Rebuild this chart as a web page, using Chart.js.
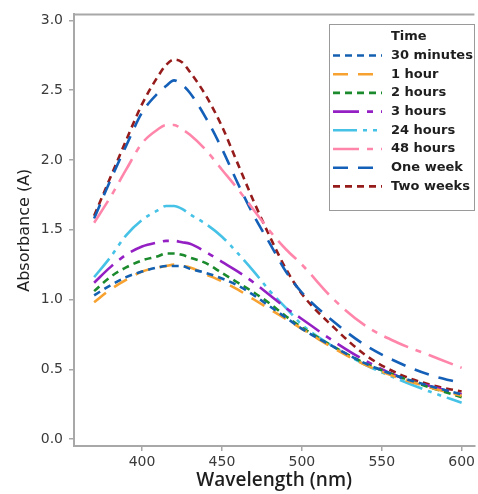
<!DOCTYPE html>
<html>
<head>
<meta charset="utf-8">
<script src="https://cdn.jsdelivr.net/npm/chart.js@4"></script>
<style>
    html, body { margin: 0; padding: 0; background: #fff; }
</style>
</head>
<body>
<canvas id="absChart" width="478" height="494"></canvas>
<script>
// wavelengths (nm) shared by all series
const wavelengths = [370, 380, 390, 400, 410, 415, 420, 425, 430, 440, 450, 460, 470, 480, 490, 500, 520, 540, 560, 580, 600];

const legendTitle = "Time";
const seriesNames = ["30 minutes", "1 hour", "2 hours", "3 hours", "24 hours", "48 hours", "One week", "Two weeks"];

const min30   = [1.03, 1.10, 1.16, 1.20, 1.23, 1.24, 1.24, 1.24, 1.22, 1.19, 1.15, 1.10, 1.03, 0.95, 0.87, 0.79, 0.66, 0.54, 0.45, 0.38, 0.32];
const hour1   = [0.98, 1.07, 1.14, 1.20, 1.23, 1.24, 1.25, 1.24, 1.23, 1.18, 1.13, 1.07, 1.00, 0.93, 0.86, 0.79, 0.65, 0.53, 0.44, 0.37, 0.31];
const hours2  = [1.06, 1.16, 1.23, 1.28, 1.31, 1.33, 1.33, 1.32, 1.30, 1.26, 1.19, 1.12, 1.05, 0.97, 0.88, 0.80, 0.66, 0.54, 0.45, 0.37, 0.30];
const hours3  = [1.12, 1.23, 1.32, 1.38, 1.41, 1.42, 1.42, 1.41, 1.40, 1.34, 1.27, 1.20, 1.12, 1.03, 0.94, 0.86, 0.70, 0.56, 0.45, 0.38, 0.32];
const hours24 = [1.16, 1.30, 1.46, 1.57, 1.64, 1.67, 1.67, 1.65, 1.61, 1.54, 1.45, 1.33, 1.20, 1.06, 0.94, 0.82, 0.66, 0.53, 0.43, 0.34, 0.26];
const hours48 = [1.55, 1.73, 1.93, 2.12, 2.22, 2.25, 2.25, 2.22, 2.18, 2.07, 1.93, 1.79, 1.64, 1.49, 1.36, 1.25, 1.00, 0.81, 0.69, 0.60, 0.51];
const week1   = [1.58, 1.85, 2.10, 2.34, 2.48, 2.53, 2.57, 2.54, 2.48, 2.30, 2.08, 1.83, 1.60, 1.40, 1.20, 1.05, 0.84, 0.67, 0.55, 0.46, 0.40];
const weeks2  = [1.60, 1.87, 2.14, 2.40, 2.60, 2.68, 2.72, 2.70, 2.63, 2.46, 2.24, 1.97, 1.70, 1.45, 1.22, 1.04, 0.80, 0.60, 0.47, 0.39, 0.34];

const xTicks = [400, 450, 500, 550, 600];
const yTicks = [0, 0.5, 1.0, 1.5, 2.0, 2.5, 3.0];

const seriesValues = [min30, hour1, hours2, hours3, hours24, hours48, week1, weeks2];
const colors = ["#1460b0", "#f7a230", "#1b8a2c", "#9420c4", "#45c2e6", "#ff86aa", "#1460b8", "#961c1c"];
const dashes = [
    [7, 5],
    [15, 10],
    [7, 5],
    [26, 8, 6, 8],
    [24, 6, 4, 6, 4, 6],
    [26, 8, 6, 8],
    [15, 10],
    [7, 5]
];

const datasets = seriesNames.map((name, i) => ({
    label: name,
    data: wavelengths.map((w, j) => ({ x: w, y: seriesValues[i][j] })),
    borderColor: colors[i],
    borderWidth: 2.6,
    borderDash: dashes[i],
    fill: false,
    pointRadius: 0,
    cubicInterpolationMode: "monotone"
}));

const axisColor = "#a8a8a8";
const tickFont = { family: "DejaVu Sans", size: 14 };

// box legend with a title, drawn from the datasets
const boxLegend = {
    id: "boxLegend",
    afterDraw(chart) {
        const ctx = chart.ctx;
        const left = 329.5, top = 24.5, w = 145, h = 186;
        ctx.save();
        ctx.fillStyle = "#fff";
        ctx.fillRect(left, top, w, h);
        ctx.strokeStyle = "#9a9a9a";
        ctx.lineWidth = 1;
        ctx.setLineDash([]);
        ctx.strokeRect(left, top, w, h);

        ctx.font = "bold 13px 'DejaVu Sans'";
        ctx.fillStyle = "#1e1e1e";
        ctx.textBaseline = "middle";
        ctx.textAlign = "left";
        ctx.fillText(legendTitle, 391, 37);

        chart.data.datasets.forEach((ds, i) => {
            const y = 55.5 + i * 18.7;
            ctx.strokeStyle = ds.borderColor;
            ctx.lineWidth = 2.6;
            ctx.setLineDash(ds.borderDash);
            ctx.beginPath();
            ctx.moveTo(333, y);
            ctx.lineTo(382, y);
            ctx.stroke();
            ctx.setLineDash([]);
            ctx.fillText(ds.label, 391, y);
        });
        ctx.restore();
    }
};

// top edge of the plot frame
const topFrame = {
    id: "topFrame",
    afterDraw(chart) {
        const { ctx, chartArea } = chart;
        ctx.save();
        ctx.strokeStyle = axisColor;
        ctx.lineWidth = 2;
        ctx.beginPath();
        ctx.moveTo(chartArea.left, chartArea.top);
        ctx.lineTo(chartArea.right, chartArea.top);
        ctx.stroke();
        ctx.restore();
    }
};

new Chart(document.getElementById("absChart").getContext("2d"), {
    type: "line",
    data: { datasets },
    options: {
        responsive: false,
        animation: false,
        devicePixelRatio: 1,
        layout: { padding: { top: 14, right: 0, left: 0, bottom: 0 } },
        plugins: {
            legend: { display: false },
            tooltip: { enabled: false }
        },
        scales: {
            x: {
                type: "linear",
                min: 357.4,
                max: 608,
                afterBuildTicks: s => { s.ticks = xTicks.map(v => ({ value: v })); },
                afterFit: s => { s.height = 48; },
                grid: { drawOnChartArea: false, tickLength: 5, color: axisColor, lineWidth: 1.5 },
                border: { color: axisColor, width: 2 },
                ticks: { padding: 3, font: tickFont, color: "#3a3a3a", maxRotation: 0 },
                title: {
                    display: true,
                    text: "Wavelength (nm)",
                    font: { family: "Open Sans", size: 19, weight: "600" },
                    color: "#1e1e1e",
                    padding: { top: 0, bottom: 2 }
                }
            },
            y: {
                min: -0.05,
                max: 3.043,
                afterBuildTicks: s => { s.ticks = yTicks.map(v => ({ value: v })); },
                afterFit: s => { s.width = 74; },
                grid: { drawOnChartArea: false, tickLength: 5, color: axisColor, lineWidth: 1.5 },
                border: { color: axisColor, width: 2 },
                ticks: { padding: 6, font: tickFont, color: "#3a3a3a", callback: v => v.toFixed(1) },
                title: {
                    display: true,
                    text: "Absorbance (A)",
                    font: { family: "DejaVu Sans", size: 16 },
                    color: "#1e1e1e",
                    padding: { top: 15, bottom: 0 }
                }
            }
        }
    },
    plugins: [topFrame, boxLegend]
});
</script>
</body>
</html>
